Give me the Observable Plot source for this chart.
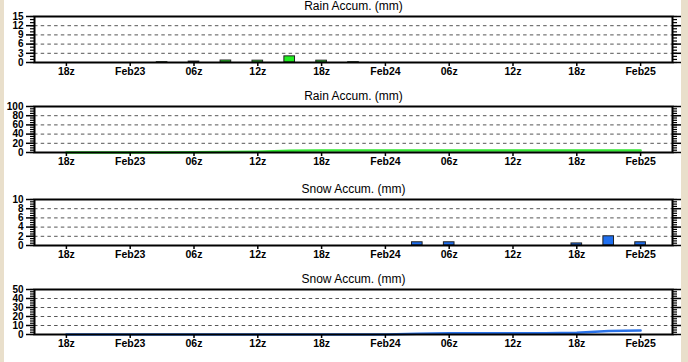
<!DOCTYPE html>
<html><head><meta charset="utf-8">
<script src="https://cdn.jsdelivr.net/npm/d3@7"></script>
<script src="https://cdn.jsdelivr.net/npm/@observablehq/plot@0.6"></script>
<style>
body{margin:0;background:#e9dfcb;}
#wrap{position:relative;width:688px;height:362px;overflow:hidden;background:linear-gradient(90deg,#e9dfcb 0,#e9dfcb 4px,#fff 4px,#fff 681px,#e9dfcb 681px);}
.panel{position:absolute;left:0;}
</style></head><body><div id="wrap"></div>
<script>
// 3-hourly valid times (UTC)
const times = ["2025-02-22T18:00Z","2025-02-22T21:00Z",
  "2025-02-23T00:00Z","2025-02-23T03:00Z","2025-02-23T06:00Z","2025-02-23T09:00Z",
  "2025-02-23T12:00Z","2025-02-23T15:00Z","2025-02-23T18:00Z","2025-02-23T21:00Z",
  "2025-02-24T00:00Z","2025-02-24T03:00Z","2025-02-24T06:00Z","2025-02-24T09:00Z",
  "2025-02-24T12:00Z","2025-02-24T15:00Z","2025-02-24T18:00Z","2025-02-24T21:00Z",
  "2025-02-25T00:00Z"];
const rainBar   = [0,0,0,0.1,0.3,0.65,0.6,2.0,0.6,0.1,0,0,0,0,0,0,0,0,0];
const rainAccum = [0,0,0,0.1,0.4,1.05,1.65,3.65,4.25,4.35,4.35,4.35,4.35,4.35,4.35,4.35,4.35,4.35,4.35];
const snowBar   = [0,0,0,0,0,0,0,0,0,0,0,0.7,0.7,0,0,0,0.45,2.0,0.7];
const snowAccum = [0,0,0,0,0,0,0,0,0,0,0,0.7,1.4,1.4,1.4,1.4,1.85,3.85,4.55];

const xTickTimes  = ["2025-02-22T18:00Z","2025-02-23T00:00Z","2025-02-23T06:00Z","2025-02-23T12:00Z","2025-02-23T18:00Z",
                     "2025-02-24T00:00Z","2025-02-24T06:00Z","2025-02-24T12:00Z","2025-02-24T18:00Z","2025-02-25T00:00Z"];
const xTickLabels = ["18z","Feb23","06z","12z","18z","Feb24","06z","12z","18z","Feb25"];
const xDomain = ["2025-02-22T15:00Z","2025-02-25T03:00Z"];

const rainBarTicks   = [0,3,6,9,12,15];
const rainAccumTicks = [0,20,40,60,80,100];
const snowBarTicks   = [0,2,4,6,8,10];
const snowAccumTicks = [0,10,20,30,40,50];

const panels = [
  {title:"Rain Accum. (mm)", top:0,   ticks:rainBarTicks,   kind:"bar",  values:rainBar,   color:"#22ee22"},
  {title:"Rain Accum. (mm)", top:90,  ticks:rainAccumTicks, kind:"line", values:rainAccum, color:"#33e633"},
  {title:"Snow Accum. (mm)", top:183, ticks:snowBarTicks,   kind:"bar",  values:snowBar,   color:"#1f6ff0"},
  {title:"Snow Accum. (mm)", top:273, ticks:snowAccumTicks, kind:"line", values:snowAccum, color:"#2a72e8"}
];

const T = times.map(s => new Date(s));
const xT = xTickTimes.map(s => new Date(s));
const font = "'Liberation Sans', Arial, Helvetica, sans-serif";
const HALF = 30 * 60 * 1000;

for (const p of panels) {
  const yMax = p.ticks[p.ticks.length - 1];
  const step = p.ticks[1] - p.ticks[0];
  const minor = d3.range(0, yMax + step / 100, step / (p.ticks === rainBarTicks ? 3 : 4));
  const idx = d3.range(times.length);
  const dataMark = p.kind === "bar"
    ? Plot.rect(idx.filter(i => p.values[i] > 0), {
        x1: i => new Date(+T[i] - HALF), x2: i => new Date(+T[i] + HALF),
        y1: 0, y2: i => p.values[i], fill: p.color, stroke: "#222", strokeWidth: 1})
    : Plot.line(idx, {x: i => T[i], y: i => p.values[i], stroke: p.color, strokeWidth: 2.5});
  const chart = Plot.plot({
    width: 688, height: p.top === 273 ? 89 : 90,
    marginLeft: 34, marginRight: 16, marginTop: 16, marginBottom: 28,
    style: {background: "transparent", fontFamily: font, color: "black"},
    x: {type: "utc", domain: xDomain.map(s => new Date(s))},
    y: {domain: [0, yMax]},
    marks: [
      Plot.ruleY(p.ticks.slice(1, -1), {stroke: "#555", strokeWidth: 1, strokeDasharray: "3.5,3.2"}),
      dataMark,
      Plot.axisX({ticks: xT, tickSize: 4, tickPadding: 1, strokeWidth: 1.5, fontSize: 10.5, fontWeight: "bold",
        tickFormat: d => xTickLabels[xT.findIndex(t => +t === +d)], label: null}),
      Plot.axisY({anchor: "left", ticks: minor, tickSize: 4, strokeWidth: 1.2, tickFormat: () => "", label: null}),
      Plot.axisY({anchor: "left", ticks: p.ticks, tickSize: 8, tickPadding: 3, strokeWidth: 1.5, fontSize: 10, fontWeight: "bold", label: null}),
      Plot.axisY({anchor: "right", ticks: minor, tickSize: 4, strokeWidth: 1.2, tickFormat: () => "", label: null}),
      Plot.axisY({anchor: "right", ticks: p.ticks, tickSize: 8, strokeWidth: 1.5, tickFormat: () => "", label: null}),
      Plot.frame({stroke: "black", strokeWidth: 2}),
      Plot.text([p.title], {frameAnchor: "top", dy: -7, lineAnchor: "bottom", fontSize: 12, fill: "black"})
    ]
  });
  chart.classList.add("panel");
  chart.style.top = p.top + "px";
  chart.style.position = "absolute";
  document.getElementById("wrap").appendChild(chart);
}
</script></body></html>
